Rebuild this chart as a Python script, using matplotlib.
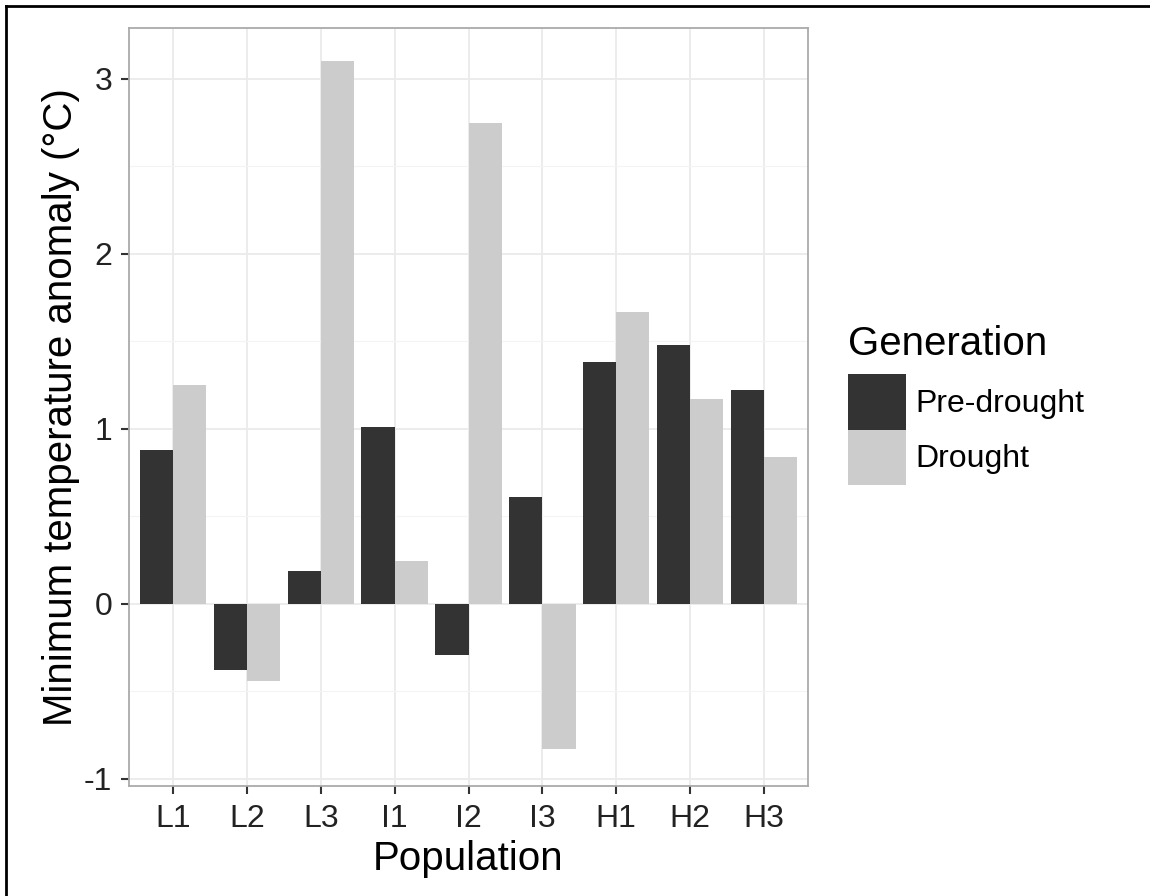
import matplotlib
matplotlib.use("Agg")
import matplotlib.pyplot as plt
import numpy as np
from matplotlib.lines import Line2D

plt.rcParams['font.family'] = ['Liberation Sans', 'DejaVu Sans']
plt.rcParams['axes.unicode_minus'] = False

populations = ["L1", "L2", "L3", "I1", "I2", "I3", "H1", "H2", "H3"]
pre_drought = [0.88, -0.38, 0.19, 1.01, -0.29, 0.61, 1.38, 1.48, 1.22]
drought = [1.25, -0.44, 3.10, 0.245, 2.745, -0.83, 1.67, 1.17, 0.84]
series_names = ["Pre-drought", "Drought"]
series_colors = ["#333333", "#CCCCCC"]
y_ticks = [-1, 0, 1, 2, 3]

W, H = 1150, 896
fig = plt.figure(figsize=(W / 100, H / 100), dpi=100)
ax = fig.add_axes([129 / W, 1 - 786 / H, (808 - 129) / W, (786 - 28) / H])

x = np.arange(1, len(populations) + 1)
bw = 0.45
bars = []
for i, (vals, name, col) in enumerate(zip([pre_drought, drought], series_names, series_colors)):
    b = ax.bar(x + (i - 0.5) * bw, vals, width=bw, color=col, label=name, zorder=3, linewidth=0)
    bars.append(b)

ax.set_xlim(0.4, len(populations) + 0.6)
ax.set_ylim(-1.04, 3.29)
ax.set_xticks(x)
ax.set_xticklabels(populations)
ax.set_yticks(y_ticks)
ax.set_yticks(np.arange(-0.5, 3.5, 1.0), minor=True)

ax.grid(True, which='major', color='#EBEBEB', linewidth=1.3, zorder=0)
ax.grid(True, which='minor', axis='y', color='#F4F4F4', linewidth=0.8, zorder=0)
ax.set_axisbelow(True)

for s in ax.spines.values():
    s.set_color('#AAAAAA')
    s.set_linewidth(1.3)

ax.tick_params(axis='both', which='major', length=6, width=1.5, color='#333333',
               labelsize=23, labelcolor='#222222')
ax.tick_params(axis='y', which='minor', length=0)
ax.tick_params(axis='x', pad=7)
ax.tick_params(axis='y', pad=6)

ax.set_xlabel("Population", fontsize=29, labelpad=4, color='black')
ax.set_ylabel("Minimum temperature anomaly (°C)", fontsize=29, labelpad=3, color='black')

leg = ax.legend(handles=bars, labels=series_names, title="Generation",
                loc='upper left', bbox_to_anchor=(848 / W, 1 - 325 / H),
                bbox_transform=fig.transFigure, frameon=False,
                fontsize=23, title_fontsize=29, handlelength=1.8, handleheight=2.3,
                labelspacing=0.0, handletextpad=0.3, borderpad=0, borderaxespad=0,
                alignment='left')
leg._legend_box.sep = 8

# figure border (top and left)
fig.add_artist(Line2D([6 / W, 1], [1 - 6 / H, 1 - 6 / H], transform=fig.transFigure,
                      color='black', linewidth=2))
fig.add_artist(Line2D([6 / W, 6 / W], [0, 1 - 6 / H], transform=fig.transFigure,
                      color='black', linewidth=2))

fig.savefig("out.png", dpi=100)
